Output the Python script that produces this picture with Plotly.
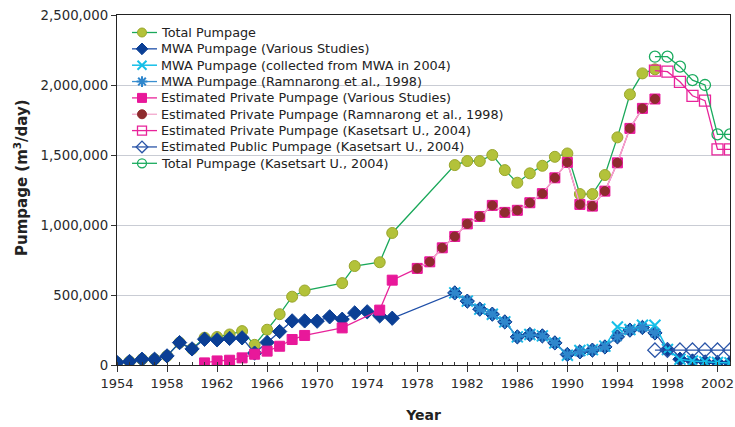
import plotly.graph_objects as go

# ---- data ----
years_mwa = [1954, 1955, 1956, 1957, 1958, 1959, 1960, 1961, 1962, 1963, 1964, 1965, 1966, 1967,
             1968, 1969, 1970, 1971, 1972, 1973, 1974, 1975, 1976,
             1981, 1982, 1983, 1984, 1985, 1986, 1987, 1988, 1989, 1990, 1991, 1992, 1993,
             1994, 1995, 1996, 1997, 1998, 1999, 2000, 2001, 2002, 2003]
mwa_various = [18000, 25000, 41000, 41000, 65000, 160000, 115000, 184000, 180000, 190000, 194000, 85000, 161000, 239000,
               315000, 315000, 313000, 344000, 327000, 372000, 380000, 351000, 334000,
               515000, 456000, 399000, 363000, 308000, 201000, 218000, 208000, 158000, 75000, 94000, 106000, 129000,
               201000, 249000, 268000, 229000, 111000, 41000, 29000, 22000, 18000, 15000]

years_mwa2004 = [1981, 1982, 1983, 1984, 1985, 1986, 1987, 1988, 1989, 1990, 1991, 1992, 1993,
                 1994, 1995, 1996, 1997, 1998, 1999, 2000, 2001, 2002, 2003]
mwa_2004 = [515000, 456000, 399000, 363000, 308000, 201000, 218000, 208000, 158000, 70000, 104000, 110000, 135000,
            272000, 254000, 284000, 284000, 111000, 41000, 29000, 22000, 18000, 15000]

years_mwa_ram = [1981, 1982, 1983, 1984, 1985, 1986, 1987, 1988, 1989, 1990, 1991, 1992, 1993,
                 1994, 1995, 1996, 1997]
mwa_ram = [515000, 456000, 399000, 363000, 308000, 201000, 218000, 208000, 158000, 75000, 94000, 106000, 129000,
           201000, 249000, 268000, 229000]

years_priv = [1961, 1962, 1963, 1964, 1965, 1966, 1967, 1968, 1969, 1972, 1975, 1976,
              1978, 1979, 1980, 1981, 1982, 1983, 1984, 1985, 1986, 1987, 1988, 1989, 1990,
              1991, 1992, 1993, 1994, 1995, 1996, 1997]
priv_various = [15000, 29000, 34000, 51000, 77000, 99000, 134000, 182000, 211000, 265000, 392000, 606000,
                690000, 737000, 837000, 918000, 1008000, 1061000, 1140000, 1090000, 1105000, 1159000, 1224000, 1337000, 1447000,
                1147000, 1135000, 1242000, 1444000, 1690000, 1833000, 1900000]

years_priv_ram = [1978, 1979, 1980, 1981, 1982, 1983, 1984, 1985, 1986, 1987, 1988, 1989, 1990,
                  1991, 1992, 1993, 1994, 1995, 1996, 1997]
priv_ram = [690000, 737000, 837000, 918000, 1008000, 1061000, 1140000, 1090000, 1105000, 1159000, 1224000, 1337000, 1447000,
            1147000, 1135000, 1242000, 1444000, 1690000, 1833000, 1900000]

years_kas = [1997, 1998, 1999, 2000, 2001, 2002, 2003]
priv_kas = [2102000, 2095000, 2023000, 1923000, 1888000, 1540000, 1540000]
public_kas = [106000, 106000, 106000, 106000, 106000, 106000, 106000]
total_kas = [2202000, 2202000, 2131000, 2035000, 2000000, 1647000, 1647000]

years_total = [1954, 1955, 1956, 1957, 1958, 1959, 1960, 1961, 1962, 1963, 1964, 1965, 1966, 1967,
               1968, 1969, 1972, 1973, 1975, 1976,
               1981, 1982, 1983, 1984, 1985, 1986, 1987, 1988, 1989, 1990, 1991, 1992, 1993,
               1994, 1995, 1996, 1997]
total = [18000, 25000, 41000, 41000, 65000, 160000, 115000, 195000, 200000, 218000, 242000, 144000, 252000, 363000,
         488000, 532000, 585000, 707000, 734000, 943000,
         1428000, 1457000, 1457000, 1500000, 1392000, 1302000, 1369000, 1423000, 1487000, 1511000, 1221000, 1221000, 1357000,
         1626000, 1933000, 2083000, 2112000]

x_ticks = list(range(1954, 2003, 4))
y_ticks = [0, 500000, 1000000, 1500000, 2000000, 2500000]

# ---- series styles (name, x, y, line colour, symbol, size, fill, outline, line width, outline width) ----
series = [
    ("Total Pumpage", years_total, total, "#1aa85a", "circle", 11, "#b3c23a", "#9aa62c", 1.3, 1),
    ("MWA Pumpage (Various Studies)", years_mwa, mwa_various, "#1f4fa8", "diamond", 11, "#0b3f95", "#0b3f95", 1.3, 1),
    ("MWA Pumpage (collected from MWA in 2004)", years_mwa2004, mwa_2004, "#16bfe8", "x-thin", 11, "#16bfe8", "#16bfe8", 1.5, 2),
    ("MWA Pumpage (Ramnarong et al., 1998)", years_mwa_ram, mwa_ram, "#3a8fd0", "asterisk", 10, "#2f86cc", "#2f86cc", 1.3, 2),
    ("Estimated Private Pumpage (Various Studies)", years_priv, priv_various, "#e8239a", "square", 10, "#e8189a", "#e8189a", 1.3, 1),
    ("Estimated Private Pumpage (Ramnarong et al., 1998)", years_priv_ram, priv_ram, "#f3a8cc", "circle", 9, "#8e2b2e", "#8e2b2e", 1.3, 1),
    ("Estimated Private Pumpage (Kasetsart U., 2004)", years_kas, priv_kas, "#e8239a", "square-open", 11, "#e8239a", "#e8239a", 1.3, 1.3),
    ("Estimated Public Pumpage (Kasetsart U., 2004)", years_kas, public_kas, "#2a55a8", "diamond-open", 11, "#2a55a8", "#2a55a8", 1.3, 1.3),
    ("Total Pumpage (Kasetsart U., 2004)", years_kas, total_kas, "#1aab5e", "circle-open", 11, "#1aab5e", "#1aab5e", 1.3, 1.3),
]

W, H = 735, 427
ML, MR, MT, MB = 117, 5, 15, 62
PW, PH = W - ML - MR, H - MT - MB

fig = go.Figure()

for name, x, y, lc, sym, sz, fill, outl, lw, ow in series:
    fig.add_trace(go.Scatter(
        x=x, y=y, name=name, mode="lines+markers", showlegend=False,
        line=dict(color=lc, width=lw),
        marker=dict(symbol=sym, size=sz, color=fill, line=dict(color=outl, width=ow)),
    ))

# ---- legend (keys on an overlay axis in plot-fraction units, labels as annotations) ----
key_x0 = (132 - ML) / PW
key_xm = (142 - ML) / PW
key_x1 = (157 - ML) / PW
text_x = (159 - ML) / PW
row0, row_step = 32.5, 16.35
annotations = []
for i, (name, x, y, lc, sym, sz, fill, outl, lw, ow) in enumerate(series):
    yy = 1 - (row0 + i * row_step - MT) / PH
    fig.add_trace(go.Scatter(
        x=[key_x0, key_xm, key_x1], y=[yy, yy, yy], xaxis="x2", yaxis="y2",
        mode="lines+markers", showlegend=False, hoverinfo="skip",
        line=dict(color=lc, width=lw),
        marker=dict(symbol=sym, size=min(sz, 9), color=fill, opacity=[0, 1, 0],
                    line=dict(color=outl, width=ow)),
    ))
    annotations.append(dict(
        x=text_x, y=yy, xref="x2", yref="y2", text=name, showarrow=False,
        xanchor="left", yanchor="middle", font=dict(family="DejaVu Sans", size=12.8, color="#222"),
    ))

# y-axis title as a rotated annotation
annotations.append(dict(
    x=(21 - ML) / PW, y=1 - (178 - MT) / PH, xref="paper", yref="paper",
    text="<b>Pumpage (m<sup>3</sup>/day)</b>", textangle=-90, showarrow=False,
    xanchor="center", yanchor="middle", font=dict(family="DejaVu Sans", size=15, color="#222"),
))

fig.update_layout(
    width=W, height=H,
    margin=dict(l=ML, r=MR, t=MT, b=MB),
    paper_bgcolor="white", plot_bgcolor="white",
    font=dict(family="DejaVu Sans", size=13, color="#222"),
    showlegend=False,
    annotations=annotations,
    xaxis2=dict(overlaying="x", range=[0, 1], visible=False, fixedrange=True),
    yaxis2=dict(overlaying="y", range=[0, 1], visible=False, fixedrange=True),
)
fig.layout.xaxis.update(
    range=[1954, 2003], tickmode="array", tickvals=x_ticks,
    ticktext=[str(v) for v in x_ticks], automargin=False,
    ticks="outside", ticklen=6, tickcolor="#333",
    minor=dict(dtick=1, ticks="inside", ticklen=3, tickcolor="#333", showgrid=False),
    showline=True, linecolor="#222", linewidth=1.2, mirror=True,
    showgrid=False, zeroline=False,
    tickfont=dict(size=13, color="#2a2a2a"),
    title=dict(text="<b>Year</b>", font=dict(size=14, color="#222"), standoff=20),
)
fig.layout.yaxis.update(
    range=[0, 2500000], tickmode="array", tickvals=y_ticks,
    ticktext=[f"{v:,}" for v in y_ticks], automargin=False,
    ticks="outside", ticklen=5, tickcolor="#333",
    showline=True, linecolor="#222", linewidth=1.2, mirror=True,
    showgrid=True, gridcolor="#c9ccd4", gridwidth=1, zeroline=False,
    tickfont=dict(size=13.3, color="#2a2a2a"),
)

fig.write_html(
    "out.html",
    config={"displayModeBar": False},
    post_script="document.body.style.margin='0';document.body.style.padding='0';document.body.style.overflow='hidden';",
)
